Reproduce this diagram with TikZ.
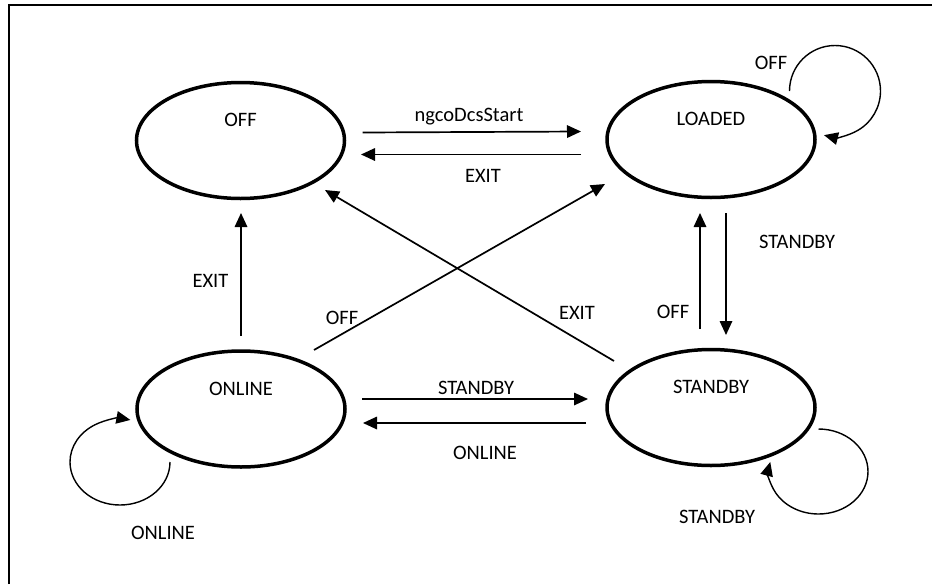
\documentclass[tikz,border=0pt]{standalone}
\usepackage{fontspec}
\setmainfont{Carlito}
\usepackage{tikz}
\usetikzlibrary{arrows.meta,shapes.geometric}

\begin{document}
\begin{tikzpicture}[x=1pt, y=1pt,
  >={Triangle[length=14pt,width=12.5pt]},
  state/.style={draw, ellipse, line width=3.5pt, minimum width=208pt, minimum height=116pt,
    inner sep=0pt, text height=14pt, text depth=42pt},
  trans/.style={line width=1.7pt, ->},
  selfloop/.style={line width=1.4pt, ->},
  lbl/.style={inner sep=0pt, text height=13.2pt, text depth=0pt},
  font=\fontsize{20.5}{24}\selectfont]
\useasboundingbox (0,0) rectangle (932,-584);
\draw[line width=1.8pt] (9,-584) -- (9,-5) -- (932,-5);

\node[state] (off) at (240.5,-140.5) {OFF};
\node[state] (loaded) at (711,-139.5) {LOADED};
\node[state] (online) at (241,-409) {ONLINE};
\node[state] (standby) at (711,-407.5) {STANDBY};

\draw[trans] ([shift={(122,8)}]off.center) -- ([shift={(-130,8)}]loaded.center);
\draw[trans] ([shift={(-130,-15)}]loaded.center) -- ([shift={(120.5,-14)}]off.center);
\draw[trans] ([shift={(0,73)}]online.center) -- ([shift={(0.5,-72.5)}]off.center);
\draw[trans] ([shift={(121,10)}]online.center) -- ([shift={(-123,8.5)}]standby.center);
\draw[trans] ([shift={(-125,-15.5)}]standby.center) -- ([shift={(122,-14)}]online.center);
\draw[trans] ([shift={(-11,78.5)}]standby.center) -- ([shift={(-11,-73.5)}]loaded.center);
\draw[trans] ([shift={(15,-73.5)}]loaded.center) -- ([shift={(15,72.5)}]standby.center);
\draw[trans] ([shift={(73,59)}]online.center) -- ([shift={(-106,-44.5)}]loaded.center);
\draw[trans] ([shift={(-97,46.5)}]standby.center) -- ([shift={(84.5,-49.5)}]off.center);

\draw[selfloop] ([shift={(78.5,48.5)}]loaded.center) arc[start angle=180, end angle=-104, radius=45.5];
\draw[selfloop] ([shift={(-71,-53)}]online.center) arc[start angle=0, end angle=-282, x radius=50, y radius=43];
\draw[selfloop] ([shift={(107.5,-21.5)}]standby.center) arc[start angle=90, end angle=-193, x radius=49.5, y radius=42.5];

\node[lbl] (startlbl) at (469,-115) {ngcoDcsStart};
\node[lbl] (exitlbl) at (483,-176) {EXIT};
\node[lbl] (exitup) at (210.5,-281) {EXIT};
\node[lbl] (offdiag) at (342,-318) {OFF};
\node[lbl] (exitdiag) at (577,-313) {EXIT};
\node[lbl] (offup) at (673,-312) {OFF};
\node[lbl] (standbydown) at (797,-242) {STANDBY};
\node[lbl] (standbylbl) at (476,-388) {STANDBY};
\node[lbl] (onlinelbl) at (485,-453) {ONLINE};
\node[lbl] (offloop) at (771,-63) {OFF};
\node[lbl] (onlineloop) at (163,-533) {ONLINE};
\node[lbl] (standbyloop) at (717,-517) {STANDBY};
\end{tikzpicture}
\end{document}
